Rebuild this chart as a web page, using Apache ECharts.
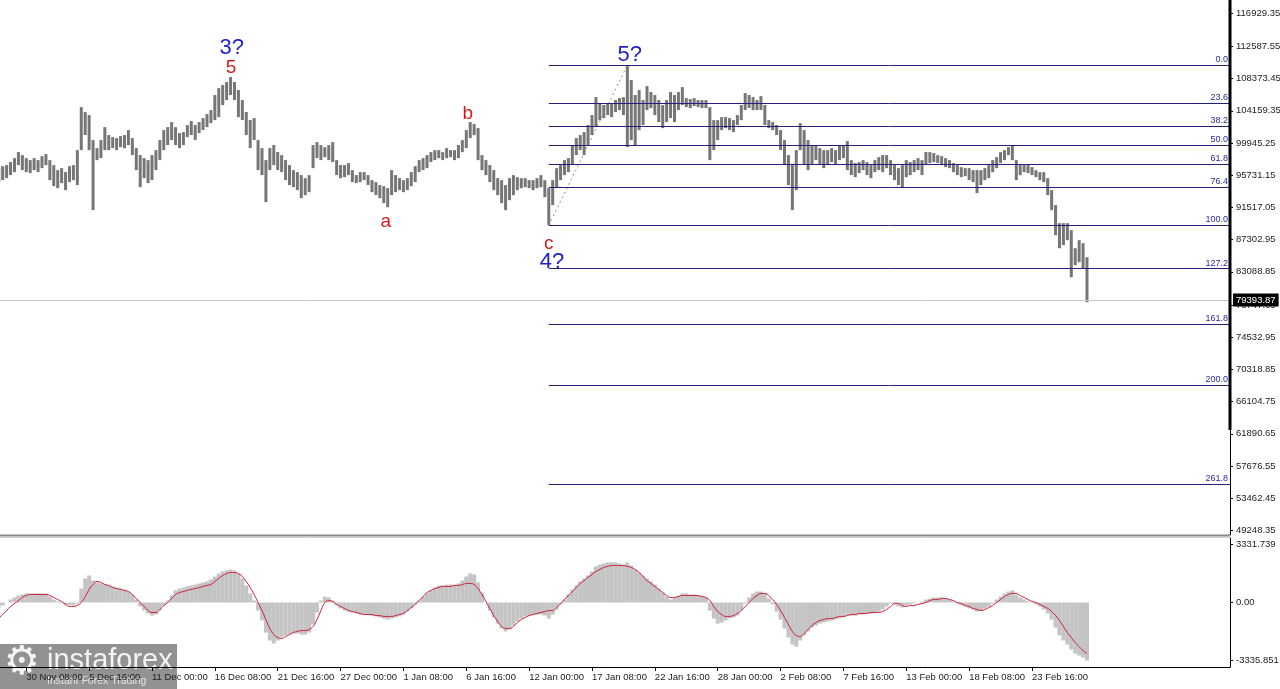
<!DOCTYPE html>
<html><head><meta charset="utf-8">
<script src="https://cdn.jsdelivr.net/npm/echarts@6/dist/echarts.min.js"></script>
<style>html,body{margin:0;padding:0;background:#fff;overflow:hidden}#c{width:1280px;height:689px}</style>
</head><body><div id="c"></div>
<script>
// ---------------- DATA ----------------
const startTime = '2024-11-28T00:00:00Z';   // first 8h bar
const barHours = 8;
const lows = [
94830,95090,95350,95750,96140,97060,96400,96140,96010,96400,
96140,96660,97060,95090,94300,94040,94700,93780,94830,95090,
94440,99020,100990,99020,91160,97710,97970,99020,99020,99280,
99020,99410,99280,99680,98370,96400,94170,95350,94700,95090,
96400,97710,99020,99680,100330,99680,99280,99680,100720,100990,
100330,101250,101640,102030,102560,102950,103340,104920,105570,106230,
105570,103340,102950,100990,99280,100330,96400,95750,92210,96400,
97060,96400,96140,95090,94440,94170,93780,92730,93130,93520,
96660,97970,97710,98100,97710,97450,95750,95350,95480,95750,
94830,94700,94830,95090,94440,93520,93130,92730,92080,91550,
93130,93520,93780,93520,93780,94300,94830,96140,96400,96660,
97450,97710,97970,97710,97970,98100,97710,97970,98760,99280,
100590,100990,97710,96400,95750,94830,93780,93130,92080,91160,
92470,93130,93780,94040,94170,94040,93780,94040,94170,92860,
89200,91820,94170,95090,95750,96140,97060,98370,99020,98370,
99680,100990,102030,102950,103210,103610,103340,104000,104260,103610,
99410,100330,99680,101640,102300,104260,104520,103610,102690,101900,
102690,103210,102690,104260,104920,104650,104520,104780,104650,104520,
104520,97710,99020,100330,101640,101900,101640,101380,102300,102950,
104260,104520,104260,104260,104260,102300,101900,101640,100990,99020,
97060,94440,91160,93780,99020,97060,96400,97060,97710,97060,
96660,97060,97450,97060,97710,97970,96400,95750,95480,96010,
96400,95750,95350,96140,96400,96140,96660,95750,95090,94440,
94040,95480,95750,96140,96400,95750,97060,97320,97450,97320,
97060,96790,96660,96140,95750,95480,95610,95090,94830,93390,
94440,95090,95350,96140,96660,97320,97710,98370,97710,95090,
95750,96140,96010,95750,95480,95090,94830,93130,91160,87890,
86180,86580,87230,82380,83960,84350,83560,79110];
const highs = [
96660,96920,97060,97450,97970,98760,98370,97970,97710,97970,
97710,98230,98500,97710,97060,96400,96660,96140,96920,97060,
99020,104650,104000,103610,100330,99280,100330,102030,100990,100720,
100590,100850,100990,101640,100590,99280,98370,97970,97710,98370,
99020,100330,101640,102030,102690,102030,101250,101380,102300,102820,
102300,102690,103210,103740,104260,106230,107140,107540,107930,108580,
107930,106880,105570,104000,102950,103210,100330,99280,97710,99280,
99680,98760,98370,97710,97060,96400,96140,95750,95350,95750,
99680,100070,99680,99410,99680,100070,97710,97060,97060,97320,
96400,95750,96140,96140,95750,95090,94830,94440,94300,94040,
96400,95750,95350,95090,95350,96140,96920,97710,97970,98370,
98760,99020,99020,98760,99280,99020,99020,99680,100330,101640,
102690,102430,101900,98370,97710,97060,96400,95350,95090,94440,
95350,95750,95480,95350,95350,95090,95090,95350,95750,95090,
94040,95090,96660,97060,97710,97970,99680,100590,100990,101380,
102300,103610,105960,105180,104920,105180,105180,105570,105830,105960,
110150,108190,106230,106880,105570,107400,106620,106230,105570,104920,
105570,106620,106230,106620,107270,105830,105700,105830,105570,105570,
105570,104650,102950,102950,103340,103340,103210,102950,103610,104920,
106490,106230,105960,105570,106090,104920,102950,102690,102300,101640,
100330,98370,97060,99020,102560,101640,100330,99680,99680,99280,
99020,99020,99280,99020,99680,99680,100200,97710,97320,97450,
97710,97450,97060,97710,98100,98370,98370,97710,97060,96660,
97060,97710,97450,97710,97970,97710,98760,98760,98630,98370,
98230,97970,97710,97320,97060,96790,96660,96660,96400,96400,
96400,96660,97060,97710,98100,98760,99020,99410,99680,97710,
97060,97060,97060,96790,96400,96140,96140,95350,93780,91820,
89460,89460,89460,88540,86180,87230,86840,85000];
const macdHist = [
-290,-170,0,170,290,400,460,520,520,520,
520,520,520,340,170,60,-60,-170,-170,-170,
-60,800,1380,1550,1260,1150,1090,1030,980,920,
860,800,750,630,460,170,-230,-460,-630,-750,
-690,-460,-170,110,400,690,800,860,920,980,
1030,1090,1150,1210,1320,1490,1660,1780,1840,1890,
1840,1660,1380,980,520,110,-460,-1030,-1720,-2180,
-2350,-2180,-2010,-1890,-1840,-1780,-1780,-1840,-1840,-1720,
-1260,-570,110,340,290,110,-170,-340,-460,-520,
-570,-630,-690,-690,-690,-750,-800,-860,-920,-980,
-920,-860,-800,-690,-520,-340,-110,110,340,520,
690,860,980,980,1030,1030,1030,1090,1260,1490,
1660,1610,1150,570,0,-460,-860,-1210,-1490,-1660,
-1550,-1320,-1090,-920,-800,-750,-690,-690,-690,-750,
-920,-690,-400,-110,170,460,750,980,1210,1380,
1550,1780,2070,2180,2240,2300,2300,2300,2240,2180,
2300,2120,1890,1720,1550,1380,1210,1030,800,570,
340,170,290,400,520,520,460,460,400,340,
290,-460,-920,-1210,-1150,-1030,-920,-860,-750,-460,
-60,290,520,630,630,520,230,-110,-520,-980,
-1490,-2010,-2410,-2530,-2180,-1890,-1660,-1440,-1320,-1210,
-1150,-1090,-1030,-980,-920,-860,-750,-750,-750,-690,
-690,-630,-630,-570,-520,-400,-230,-60,-110,-230,
-290,-170,-110,-60,0,60,170,230,290,290,
290,230,170,60,-60,-170,-230,-340,-400,-520,
-460,-340,-230,-60,170,340,520,630,690,460,
290,170,60,0,-110,-230,-400,-630,-980,-1440,
-1890,-2180,-2410,-2700,-2930,-3040,-3160,-3330];
const macdSignal = [
-920,-690,-460,-230,-60,110,290,400,460,460,
460,460,460,400,290,170,60,-110,-230,-230,
-170,0,340,750,1030,1210,1150,1030,980,860,
800,750,690,630,460,230,0,-230,-460,-570,
-570,-400,-170,0,230,460,570,630,690,750,
800,860,920,980,1030,1210,1380,1550,1660,1720,
1720,1660,1490,1210,860,460,0,-460,-980,-1490,
-1840,-2010,-2070,-1950,-1840,-1720,-1660,-1610,-1610,-1550,
-1380,-980,-460,0,110,60,-110,-230,-340,-460,
-520,-570,-630,-690,-690,-690,-750,-750,-800,-800,
-800,-750,-690,-630,-460,-290,-110,110,340,570,
690,800,860,920,920,920,980,980,1030,1090,
1090,1030,800,460,60,-340,-750,-1090,-1380,-1490,
-1490,-1380,-1150,-980,-860,-750,-690,-630,-570,-520,
-460,-460,-290,-60,170,400,630,860,1090,1260,
1440,1610,1780,1890,2010,2070,2120,2120,2120,2120,
2070,2010,1890,1720,1490,1260,1090,920,750,570,
400,290,290,340,400,400,400,400,400,340,
290,110,-230,-520,-690,-800,-800,-750,-630,-460,
-230,0,230,400,520,520,400,170,-110,-460,
-860,-1260,-1660,-1890,-1950,-1780,-1550,-1320,-1150,-1030,
-980,-920,-920,-860,-800,-800,-750,-690,-690,-630,
-630,-630,-570,-570,-570,-520,-400,-230,-60,-60,
-170,-230,-170,-170,-110,-60,0,110,170,170,
230,230,170,110,0,-60,-170,-230,-340,-400,
-460,-400,-290,-170,0,170,340,460,520,520,
400,290,170,60,0,-110,-230,-340,-520,-750,
-1030,-1380,-1720,-2010,-2300,-2530,-2760,-2930];
const lastPrice = 79393.87;
const priceTicks = [49248.35,53462.45,57676.55,61890.65,66104.75,70318.85,74532.95,78747.65,83088.85,87302.95,91517.05,95731.15,99945.25,104159.35,108373.45,112587.55,116929.35];
const macdTicks = ['3331.739','0.00','-3335.851'];
const timeTicks = ['2024-11-30T08:00Z','2024-12-05T16:00Z','2024-12-11T00:00Z','2024-12-16T08:00Z','2024-12-21T16:00Z','2024-12-27T00:00Z','2025-01-01T08:00Z','2025-01-06T16:00Z','2025-01-12T00:00Z','2025-01-17T08:00Z','2025-01-22T16:00Z','2025-01-28T00:00Z','2025-02-02T08:00Z','2025-02-07T16:00Z','2025-02-13T00:00Z','2025-02-18T08:00Z','2025-02-23T16:00Z'];
const fibRatios = [0, 23.6, 38.2, 50, 61.8, 76.4, 100, 127.2, 161.8, 200, 261.8];
const fibLowBar = 140, fibHighBar = 160;   // wave c/4? low -> wave 5? high
const waveLabels = [
  {text:'3?', bar:59.3, price:112380, degree:'major'},
  {text:'5',  bar:59.1, price:109760, degree:'minor'},
  {text:'a',  bar:98.5, price:89590,  degree:'minor'},
  {text:'b',  bar:119.4,price:103740, degree:'minor'},
  {text:'c',  bar:140.0,price:86710,  degree:'minor'},
  {text:'4?', bar:140.8,price:84350,  degree:'major'},
  {text:'5?', bar:160.6,price:111470, degree:'major'}
];

// ---------------- CHART ----------------
const FONT = 'Liberation Sans';
const HOUR = 3600e3;
const t0 = Date.parse(startTime);
const barTime = i => t0 + i * barHours * HOUR;
const xMin = Date.parse('2024-11-28T02:30:00Z');
const xMax = Date.parse('2025-03-12T11:12:00Z');
const MON = ['Jan','Feb','Mar','Apr','May','Jun','Jul','Aug','Sep','Oct','Nov','Dec'];
const pad = n => (n < 10 ? '0' : '') + n;
const fmtTime = v => { const d = new Date(v); return d.getUTCDate() + ' ' + MON[d.getUTCMonth()] + ' ' + pad(d.getUTCHours()) + ':' + pad(d.getUTCMinutes()); };
const timeTickMs = timeTicks.map(s => Date.parse(s));
const macdTickVals = macdTicks.map(Number);

const fibHigh = highs[fibHighBar], fibLow = lows[fibLowBar];
const fibLines = fibRatios.map(r => {
  const lvl = fibHigh - (fibHigh - fibLow) * r / 100;
  return [{coord: [barTime(fibLowBar), lvl], label: {formatter: r.toFixed(1)}}, {coord: [xMax, lvl]}];
});
const waveStyle = {major: {color: '#1f1fc2', fontSize: 22}, minor: {color: '#d41c1c', fontSize: 19}};

const chart = echarts.init(document.getElementById('c'), null, {renderer: 'canvas'});
chart.setOption({
  animation: false,
  backgroundColor: '#ffffff',
  grid: [
    {left: 0, right: 50, top: 0, height: 535, containLabel: false, outerBoundsMode: 'none'},
    {left: 0, right: 50, top: 538, height: 129, containLabel: false, outerBoundsMode: 'none'}
  ],
  xAxis: [
    {gridIndex: 0, type: 'value', min: xMin, max: xMax, show: false, splitLine: {show: false}},
    {gridIndex: 1, type: 'value', min: xMin, max: xMax,
     axisLine: {show: true, onZero: false, lineStyle: {color: '#000', width: 1}},
     axisTick: {show: true, length: 4, customValues: timeTickMs, lineStyle: {color: '#000'}},
     axisLabel: {customValues: timeTickMs, formatter: fmtTime, align: 'left', margin: 5, fontSize: 9.5, color: '#222', fontFamily: FONT},
     splitLine: {show: false}}
  ],
  yAxis: [
    {gridIndex: 0, type: 'value', position: 'right', min: 48640, max: 118670,
     axisLine: {show: true, onZero: false, lineStyle: {color: '#000', width: 1}},
     axisTick: {show: true, length: 3, inside: false, customValues: priceTicks, lineStyle: {color: '#000'}},
     axisLabel: {customValues: priceTicks, formatter: v => v.toFixed(2), margin: 6, fontSize: 9.5, color: '#222', fontFamily: FONT},
     splitLine: {show: false}},
    {gridIndex: 1, type: 'value', position: 'right', min: -3700, max: 3700,
     axisLine: {show: true, onZero: false, lineStyle: {color: '#000', width: 1}},
     axisTick: {show: true, length: 3, customValues: macdTickVals, lineStyle: {color: '#000'}},
     axisLabel: {customValues: macdTickVals, formatter: v => { const k = macdTickVals.indexOf(v); return k >= 0 ? macdTicks[k] : String(v); }, margin: 6, fontSize: 9.5, color: '#222', fontFamily: FONT},
     splitLine: {show: false}}
  ],
  series: [
    {
      name: 'price', type: 'custom', xAxisIndex: 0, yAxisIndex: 0,
      data: lows.map((l, i) => [barTime(i), l, highs[i]]),
      encode: {x: 0, y: [1, 2]},
      renderItem: (params, api) => {
        const lo = api.coord([api.value(0), api.value(1)]);
        const hi = api.coord([api.value(0), api.value(2)]);
        return {type: 'rect', shape: {x: lo[0] - 1.5, y: hi[1], width: 3, height: Math.max(1, lo[1] - hi[1])}, style: {fill: '#767676'}};
      },
      markLine: {
        silent: true, symbol: ['none', 'none'], z: 10,
        lineStyle: {color: '#c6c6c6', width: 1, type: 'solid'},
        label: {show: true, position: 'end', formatter: lastPrice.toFixed(2), color: '#fff', backgroundColor: '#000', padding: [2, 3, 1, 3], fontSize: 9.5, fontFamily: FONT, distance: 3},
        data: [{yAxis: lastPrice}]
      }
    },
    {
      name: 'trend', type: 'line', xAxisIndex: 0, yAxisIndex: 0, symbol: 'none',
      data: [[barTime(fibLowBar), fibLow], [barTime(fibHighBar), fibHigh]],
      lineStyle: {color: '#9a8a80', width: 1, type: [2, 3]},
      markLine: {
        silent: true, symbol: ['none', 'none'],
        lineStyle: {color: '#22227e', width: 1, type: 'solid'},
        label: {show: true, position: 'insideEndTop', color: '#2a2aa0', fontSize: 9, fontFamily: FONT, distance: [2, 1]},
        data: fibLines
      }
    },
    {
      name: 'waves', type: 'scatter', xAxisIndex: 0, yAxisIndex: 0, symbolSize: 1,
      itemStyle: {color: 'rgba(0,0,0,0)'},
      data: waveLabels.map(w => ({value: [barTime(w.bar), w.price],
        label: {show: true, position: 'inside', formatter: w.text, color: waveStyle[w.degree].color, textBorderWidth: 0, opacity: 1, fontSize: waveStyle[w.degree].fontSize, fontFamily: FONT}})),
      z: 20
    },
    {
      name: 'MACD', type: 'bar', xAxisIndex: 1, yAxisIndex: 1, barWidth: 4,
      data: macdHist.map((v, i) => [barTime(i), v]),
      itemStyle: {color: '#c4c4c4'}
    },
    {
      name: 'Signal', type: 'line', xAxisIndex: 1, yAxisIndex: 1, symbol: 'none', smooth: 0.4,
      data: macdSignal.map((v, i) => [barTime(i), v]),
      lineStyle: {color: '#cc1f38', width: 1}
    }
  ],
  graphic: [
    {type: 'line', shape: {x1: 0, y1: 535.5, x2: 1230, y2: 535.5}, style: {stroke: '#8a8a8a', lineWidth: 2}, z: 50},
    {type: 'line', shape: {x1: 0, y1: 537.5, x2: 1230, y2: 537.5}, style: {stroke: '#cfcfcf', lineWidth: 1}, z: 50},
    {type: 'rect', shape: {x: 1228.5, y: 0, width: 3, height: 430}, style: {fill: '#000'}, z: 50},
    {type: 'group', left: 0, top: 644, z: 100, children: [
      {type: 'rect', shape: {x: 0, y: 0, width: 177, height: 45}, style: {fill: 'rgba(122,122,122,0.82)'}},
      {type: 'text', x: 4, y: 0, style: {text: '\u2699', font: '40px DejaVu Sans', fill: '#f4f4f4'}},
      {type: 'text', x: 47, y: 2, style: {text: 'instaforex', font: '29px Liberation Sans', fill: '#f4f4f4'}},
      {type: 'text', x: 47, y: 32, style: {text: 'Instant Forex Trading', font: '10.5px Liberation Sans', fill: '#e4e4e4'}}
    ]}
  ]
});
</script>
</body></html>
